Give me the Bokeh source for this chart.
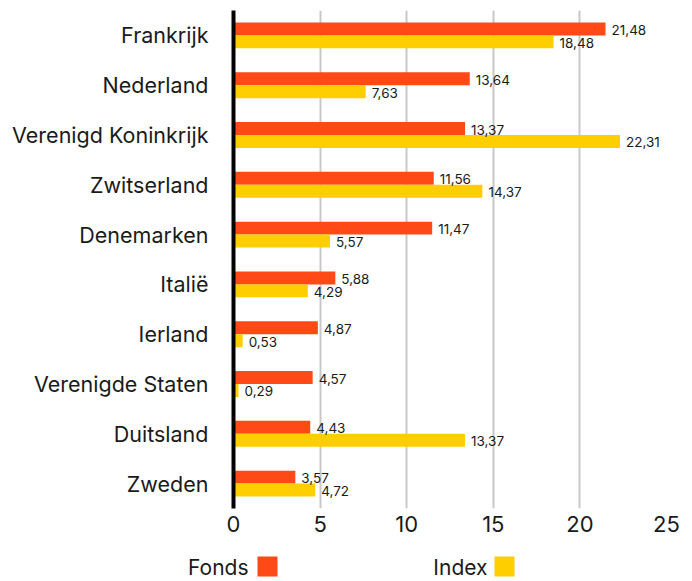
from bokeh.plotting import figure
from bokeh.models import ColumnDataSource, FactorRange, Range1d
from bokeh.transform import dodge
from bokeh.layouts import column
from bokeh.core.properties import value
from bokeh.embed import file_html
from bokeh.resources import INLINE

countries = ["Frankrijk", "Nederland", "Verenigd Koninkrijk", "Zwitserland", "Denemarken",
             "Italië", "Ierland", "Verenigde Staten", "Duitsland", "Zweden"]
fonds = [21.48, 13.64, 13.37, 11.56, 11.47, 5.88, 4.87, 4.57, 4.43, 3.57]
index = [18.48, 7.63, 22.31, 14.37, 5.57, 4.29, 0.53, 0.29, 13.37, 4.72]
x_ticks = [0, 5, 10, 15, 20, 25]

FONT = "Inter"
C_FONDS = "#FF4A17"
C_INDEX = "#FFCE00"

def fmt(v):
    return f"{v:.2f}".replace(".", ",")

src = ColumnDataSource(dict(
    cat=countries, fonds=fonds, index=index,
    fonds_lbl=[fmt(v) for v in fonds], index_lbl=[fmt(v) for v in index],
))

p = figure(width=692, height=544, output_backend="svg", toolbar_location=None,
           y_range=FactorRange(*reversed(countries)), x_range=Range1d(0, 25),
           min_border_left=233, min_border_right=26, min_border_top=10, min_border_bottom=36)
p.outline_line_color = None
p.background_fill_color = "white"
p.border_fill_color = "white"

bh = 0.26
p.hbar(y=dodge("cat", bh / 2, range=p.y_range), right="fonds", left=0, height=bh,
       source=src, color=C_FONDS, line_color=None)
p.hbar(y=dodge("cat", -bh / 2, range=p.y_range), right="index", left=0, height=bh,
       source=src, color=C_INDEX, line_color=None)

p.text(x="fonds", y=dodge("cat", bh / 2, range=p.y_range), text="fonds_lbl", source=src,
       x_offset=6, y_offset=1, text_baseline="middle", text_align="left",
       text_font=value(FONT), text_font_size="13.5px", text_color="#1a1a1a")
p.text(x="index", y=dodge("cat", -bh / 2, range=p.y_range), text="index_lbl", source=src,
       x_offset=6, y_offset=1, text_baseline="middle", text_align="left",
       text_font=value(FONT), text_font_size="13.5px", text_color="#1a1a1a")

p.xaxis.ticker = x_ticks
p.xaxis.axis_line_color = None
p.xaxis.major_tick_line_color = None
p.xaxis.minor_tick_line_color = None
p.xaxis.major_label_standoff = 1
p.xaxis.major_label_text_font = FONT
p.xaxis.major_label_text_font_size = "22px"
p.xaxis.major_label_text_color = "#1a1a1a"

p.yaxis.axis_line_color = "black"
p.yaxis.axis_line_width = 4
p.yaxis.major_tick_line_color = None
p.yaxis.minor_tick_line_color = None
p.yaxis.major_label_standoff = 19
p.yaxis.major_label_text_font = FONT
p.yaxis.major_label_text_font_size = "21.5px"
p.yaxis.major_label_text_color = "#1a1a1a"

p.ygrid.grid_line_color = None
p.xgrid.grid_line_color = "#c8c8c8"
p.xgrid.grid_line_width = 2

# legend strip
leg_labels = ["Fonds", "Index"]
leg_colors = [C_FONDS, C_INDEX]
leg = figure(width=692, height=37, output_backend="svg", toolbar_location=None,
             x_range=Range1d(0, 692), y_range=Range1d(0, 37),
             min_border=0, min_border_left=0, min_border_right=0, min_border_top=0, min_border_bottom=0)
if "frame_align" in leg.properties():
    leg.frame_align = False
    p.frame_align = False
leg.axis.visible = False
leg.grid.visible = False
leg.outline_line_color = None
lsrc = ColumnDataSource(dict(tx=[248, 487], sx=[267, 504], lbl=leg_labels, col=leg_colors))
leg.text(x="tx", y=14, text="lbl", source=lsrc, text_align="right", text_baseline="middle",
         text_font=value(FONT), text_font_size="21px", text_color="#1a1a1a")
leg.rect(x="sx", y=15, width=20, height=20, source=lsrc, fill_color="col", line_color=None)

layout = column(p, leg, spacing=0)
open("out.html", "w").write(file_html(layout, INLINE))
